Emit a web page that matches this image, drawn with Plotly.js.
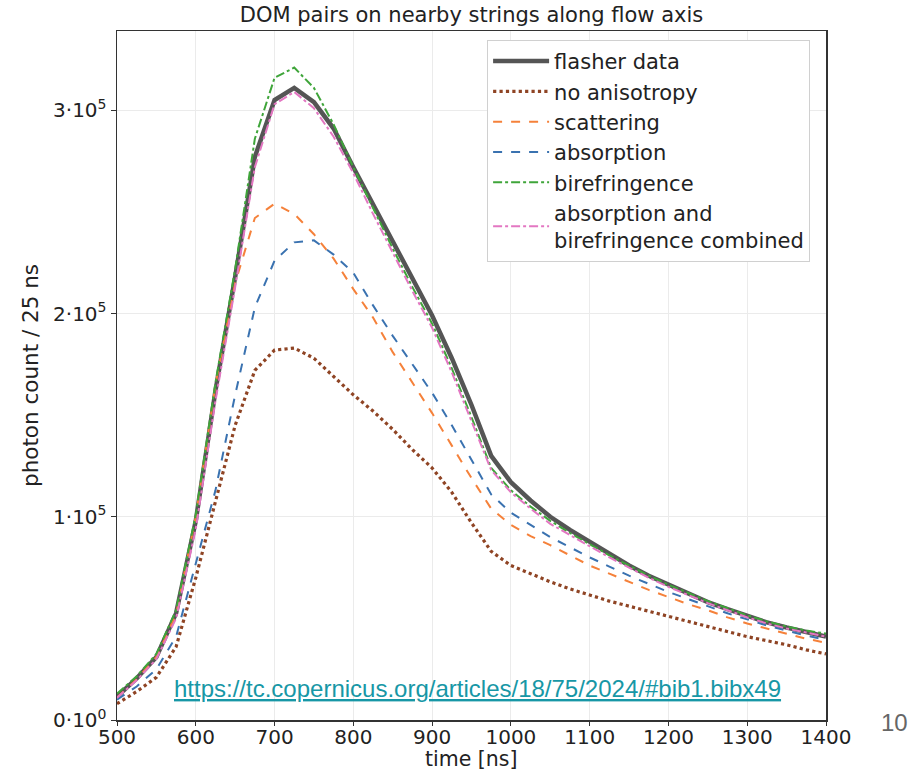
<!DOCTYPE html>
<html>
<head>
<meta charset="utf-8">
<script src="https://cdn.plot.ly/plotly-3.0.1.min.js"></script>
<style>html,body{margin:0;padding:0;background:#fff;}#chart{width:914px;height:774px;}</style>
</head>
<body>
<div id="chart"></div>
<script>
const timeNs = [500,525,550,575,600,625,650,675,700,725,750,775,800,825,850,875,900,925,950,975,1000,1025,1050,1075,1100,1125,1150,1175,1200,1225,1250,1275,1300,1325,1350,1375,1400];

const flasherData = [11500,20500,31000,52500,98000,162000,218000,277000,305000,311000,304000,291000,272000,254000,235000,217000,199000,178000,155000,130000,117000,108000,100000,93500,87500,81500,76000,71000,66500,62000,58000,54500,51000,48000,45500,43000,41000];

const noAnisotropy = [8000,14000,21000,36000,70000,107000,145000,172000,182000,183000,178000,169000,160000,152000,143000,133000,124000,112000,97000,83000,76000,72000,68000,64500,61500,58500,56000,53500,51000,48500,46000,43500,41000,39000,37000,34500,32500];

const scattering = [11000,20000,31000,52000,100000,165000,215000,247000,254000,249000,239000,227000,212000,198000,181000,166000,151000,135000,119000,104000,96000,90500,86000,81000,76000,72000,68000,64000,60500,57000,54000,50500,47500,45000,42500,40000,38000];

const absorption = [10000,16500,25000,41000,77000,113000,160000,203000,226000,235000,236000,229000,220000,204000,189000,175000,161000,145000,128000,111000,102000,96000,90000,85000,80000,75500,71000,67000,63000,59500,56000,52500,49500,46500,44000,41500,39500];

const birefringence = [13000,21500,32500,54000,101000,166000,222000,286000,316000,321000,311000,293000,272000,252000,232000,213000,195000,173000,149000,124000,113000,105000,98000,92000,86500,81000,76000,71000,66500,62500,58500,55000,51500,48500,46000,44000,42500];

const combined = [11000,19500,30000,50000,94000,157000,213000,272000,303000,309000,301000,287000,269000,249000,230000,211000,193000,171000,147000,123000,112000,104000,96500,91000,85500,80000,75000,70000,65500,61500,57500,54000,50500,47500,45000,43000,41000];

const seriesNames = ["flasher data","no anisotropy","scattering","absorption","birefringence","absorption and<br>birefringence combined"];
const xTickVals = [500,600,700,800,900,1000,1100,1200,1300,1400];
const yTickVals = [0,100000,200000,300000];
const yTickText = ["0·10<sup>0</sup>","1·10<sup>5</sup>","2·10<sup>5</sup>","3·10<sup>5</sup>"];

const font = "DejaVu Sans, sans-serif";
const styles = [
  {color:"#555555", width:4.5, dash:"solid"},
  {color:"#8f4424", width:3.2, dash:"dot"},
  {color:"#f5813a", width:2, dash:"dash"},
  {color:"#3a72b0", width:2, dash:"dash"},
  {color:"#3fa53a", width:2, dash:"dashdot"},
  {color:"#e377c2", width:2, dash:"dashdot"}
];
const ys = [flasherData, noAnisotropy, scattering, absorption, birefringence, combined];

const traces = ys.map((y,i)=>({
  x: timeNs, y: y, type: "scatter", mode: "lines",
  name: seriesNames[i], legendgroup: "g"+i,
  line: Object.assign({shape:"linear"}, styles[i]),
  hoverinfo: "skip"
}));

const layout = {
  width: 914, height: 774,
  margin: {l:117, r:88, t:31, b:54},
  paper_bgcolor: "#fff", plot_bgcolor: "#fff",
  font: {family: font, size: 20, color: "#222"},
  title: {text: "DOM pairs on nearby strings along flow axis", font:{family:font, size:21, color:"#222"},
          x: 0.5, xref: "paper", y: 0.981, yref: "container", yanchor: "middle"},
  xaxis: {
    range: [500,1400], tickvals: xTickVals, ticks: "outside", ticklen: 4, tickcolor: "#333",
    ticklabelstandoff: -6,
    showline: true, mirror: true, linecolor: "#333", linewidth: 1.5,
    showgrid: true, gridcolor: "#ebebeb", gridwidth: 1, zeroline: false,
    tickfont: {family:font, size:20, color:"#222"}
  },
  yaxis: {
    range: [0,339000], tickvals: yTickVals, ticktext: yTickText, ticks: "outside", ticklen: 5, tickcolor: "#333",
    showline: true, mirror: true, linecolor: "#333", linewidth: 1.5,
    showgrid: true, gridcolor: "#ebebeb", gridwidth: 1, zeroline: false,
    tickfont: {family:font, size:20, color:"#222"},
    title: {text: "photon count / 25 ns", font:{family:font, size:21.5, color:"#222"}, standoff: 8}
  },
  legend: {
    x: 0.522, y: 0.987, xanchor: "left", yanchor: "top",
    bgcolor: "#fff", bordercolor: "#d0d0d0", borderwidth: 1,
    font: {family:font, size:21, color:"#222"},
    traceorder: "normal", tracegroupgap: 4, itemwidth: 56
  },
  showlegend: true,
  annotations: [
    {text: "time [ns]", xref:"paper", yref:"paper", x: 0.5, y: -0.057, xanchor:"center", yanchor:"middle", showarrow:false,
     font:{family:font, size:20.5, color:"#222"}},
    {text: "<u>https://tc.copernicus.org/articles/18/75/2024/#bib1.bibx49</u>", xref:"paper", yref:"paper",
     x: 0.509, y: 0.046, xanchor:"center", yanchor:"middle", showarrow:false,
     font:{family:"Liberation Sans, Arial, sans-serif", size:24, color:"#1797a6"}},
    {text: "10", xref:"paper", yref:"paper", x: 1.097, y: -0.003, xanchor:"center", yanchor:"middle", showarrow:false,
     font:{family:"Liberation Sans, Arial, sans-serif", size:24, color:"#666"}}
  ]
};

Plotly.newPlot("chart", traces, layout, {displayModeBar:false, staticPlot:true});
</script>
</body>
</html>
